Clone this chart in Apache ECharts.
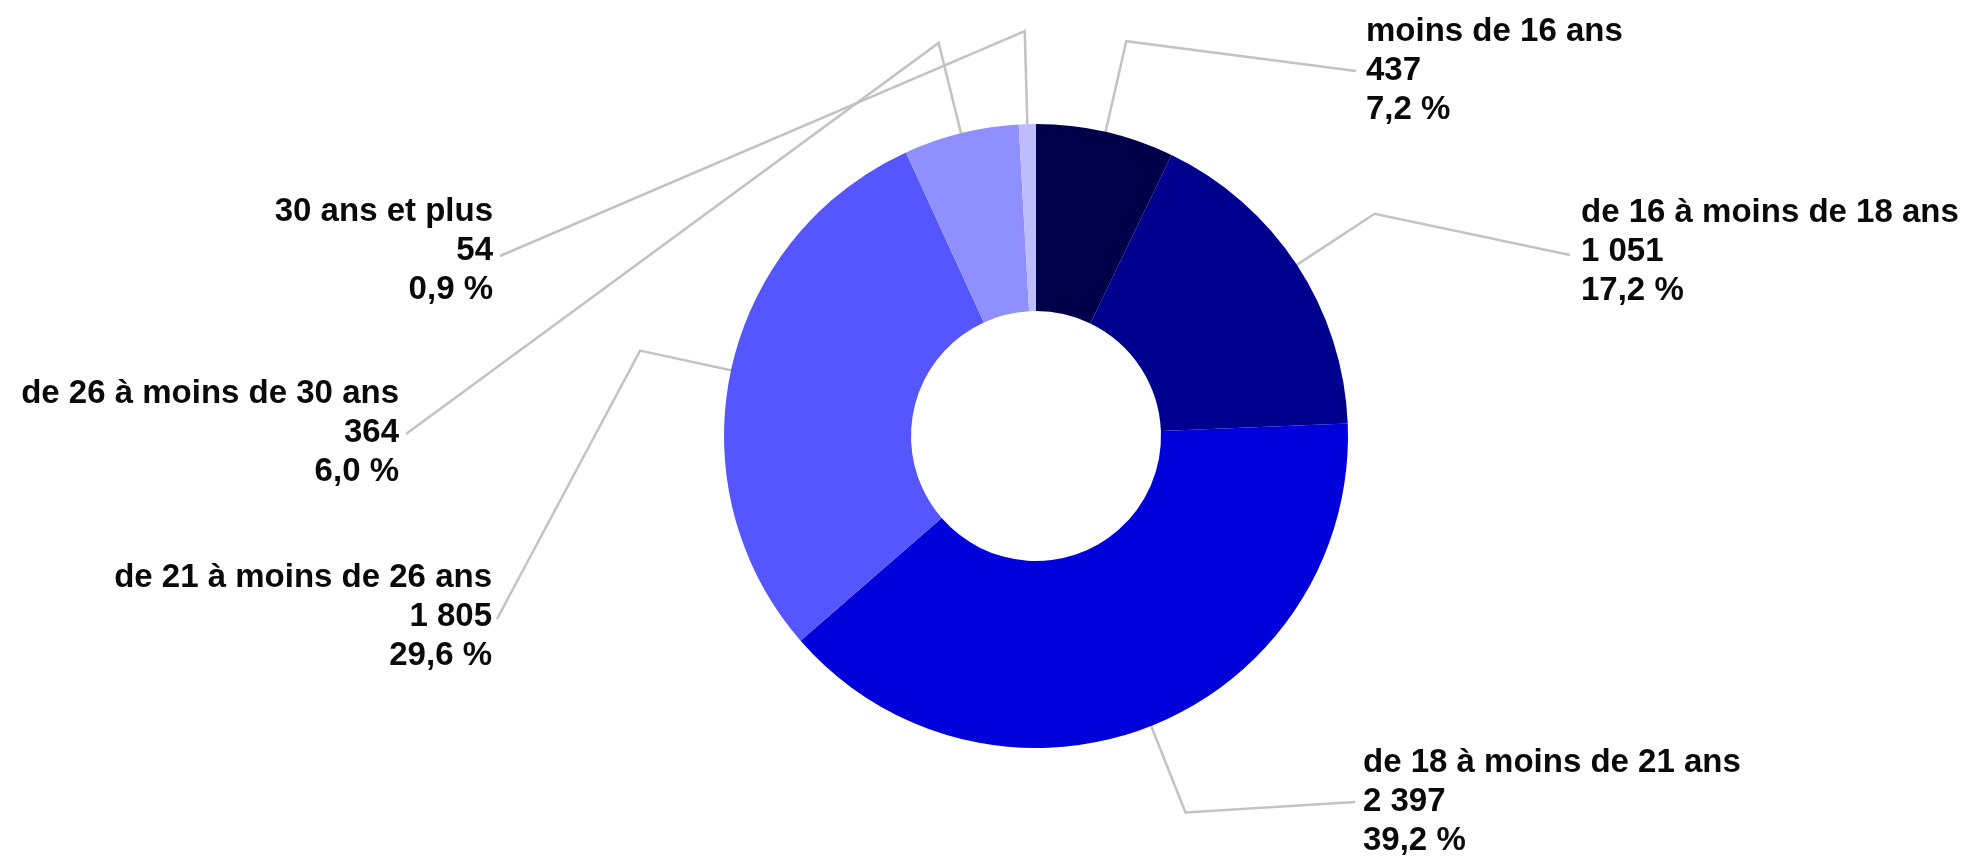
<!DOCTYPE html>
<html>
<head>
<meta charset="utf-8">
<script src="https://cdn.jsdelivr.net/npm/echarts@6/dist/echarts.min.js"></script>
<style>
html,body{margin:0;padding:0;background:#fff;}
#chart{width:1970px;height:856px;}
</style>
</head>
<body>
<div id="chart"></div>
<script>
// ---- data ----
var categories = [
  "moins de 16 ans",
  "de 16 à moins de 18 ans",
  "de 18 à moins de 21 ans",
  "de 21 à moins de 26 ans",
  "de 26 à moins de 30 ans",
  "30 ans et plus"
];
var values = [437, 1051, 2397, 1805, 364, 54];

// ---- styles / layout ----
var colors = ["#00004a", "#00008e", "#0000da", "#5656ff", "#8f8fff", "#bcbcff"];
var CX = 1036, CY = 436, R_IN = 125, R_OUT = 312, R_KINK = 405;
// leader end points and label text anchors (layout only)
var lineEnds = [[1356,71],[1570,255],[1355,802],[497,619],[406,434],[500,256]];
var textPos  = [[1366,71],[1581,252],[1363,802],[492,617],[399,433],[493,251]];
var textSide = ["left","left","left","right","right","right"];

var total = values.reduce(function(a,b){return a+b;},0);
function fmtNum(n){ return String(n).replace(/\B(?=(\d{3})+(?!\d))/g, " "); }
function fmtPct(v){ return (v/total*100).toFixed(1).replace(".", ",") + " %"; }

var midAngles = [];
(function(){
  var cum = 0;
  for (var i=0;i<values.length;i++){
    midAngles.push(2*Math.PI*(cum + values[i]/2)/total);
    cum += values[i];
  }
})();

var chart = echarts.init(document.getElementById('chart'), null, {renderer:'canvas'});
chart.setOption({
  backgroundColor: '#ffffff',
  animation: false,
  series: [{
    type: 'pie',
    center: [CX, CY],
    radius: [R_IN, R_OUT],
    startAngle: 90,
    clockwise: true,
    avoidLabelOverlap: false,
    padAngle: 0,
    itemStyle: { borderWidth: 0 },
    emphasis: { disabled: true },
    label: {
      show: true,
      position: 'outside',
      overflow: 'none',
      fontFamily: '"Liberation Sans", Arial, sans-serif',
      fontWeight: 'bold',
      fontSize: 33,
      lineHeight: 39,
      color: '#0a0a0a',
      formatter: function(p){
        return p.name + "\n" + fmtNum(values[p.dataIndex]) + "\n" + fmtPct(values[p.dataIndex]);
      }
    },
    labelLine: {
      show: true,
      length: 20,
      length2: 20,
      lineStyle: { color: '#c3c3c3', width: 2.5 }
    },
    labelLayout: function(params){
      var i = params.dataIndex;
      var a = midAngles[i];
      var p0 = [CX + R_OUT*Math.sin(a), CY - R_OUT*Math.cos(a)];
      var p1 = [CX + R_KINK*Math.sin(a), CY - R_KINK*Math.cos(a)];
      return {
        x: textPos[i][0],
        y: textPos[i][1],
        align: textSide[i],
        verticalAlign: 'middle',
        labelLinePoints: [p0, p1, lineEnds[i]]
      };
    },
    data: categories.map(function(c, i){
      return { name: c, value: values[i], itemStyle: { color: colors[i] } };
    })
  }]
});
</script>
</body>
</html>
